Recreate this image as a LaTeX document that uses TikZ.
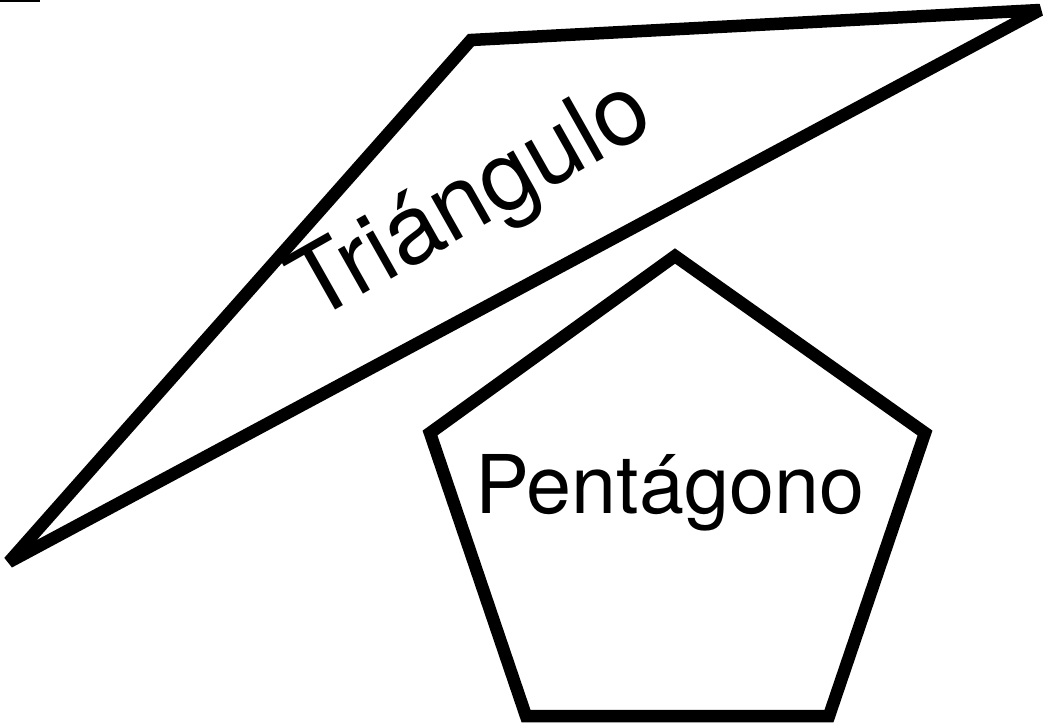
\documentclass[tikz,border=0pt]{standalone}
\usepackage{fontspec}
\setmainfont{TeX Gyre Heros}
\begin{document}
\begin{tikzpicture}[x=1pt,y=-1pt,
  shape line/.style={draw=black,line width=12.5pt,line join=miter,miter limit=4},
  big label/.style={inner sep=0pt}]
\useasboundingbox (0,0) rectangle (1045,725);
\fill[black] (0,0) rectangle (40,2.5);
% triangle
\coordinate (t1) at (471,40);
\coordinate (t2) at (1040,10);
\coordinate (t3) at (9,562);
\draw[shape line] (t1) -- (t2) -- (t3) -- cycle;
\node[big label,font=\fontsize{97}{100}\selectfont,anchor=base west,rotate=29.5] (tri) at (313,323) {Triángulo};
% pentagon
\coordinate (p1) at (675,256);
\coordinate (p2) at (925,433);
\coordinate (p3) at (829,716);
\coordinate (p4) at (526,716);
\coordinate (p5) at (430,433);
\draw[shape line] (p1) -- (p2) -- (p3) -- (p4) -- (p5) -- cycle;
\node[big label,font=\fontsize{81}{90}\selectfont,anchor=base west] (pen) at (475,513) {Pentágono};
\end{tikzpicture}
\end{document}
